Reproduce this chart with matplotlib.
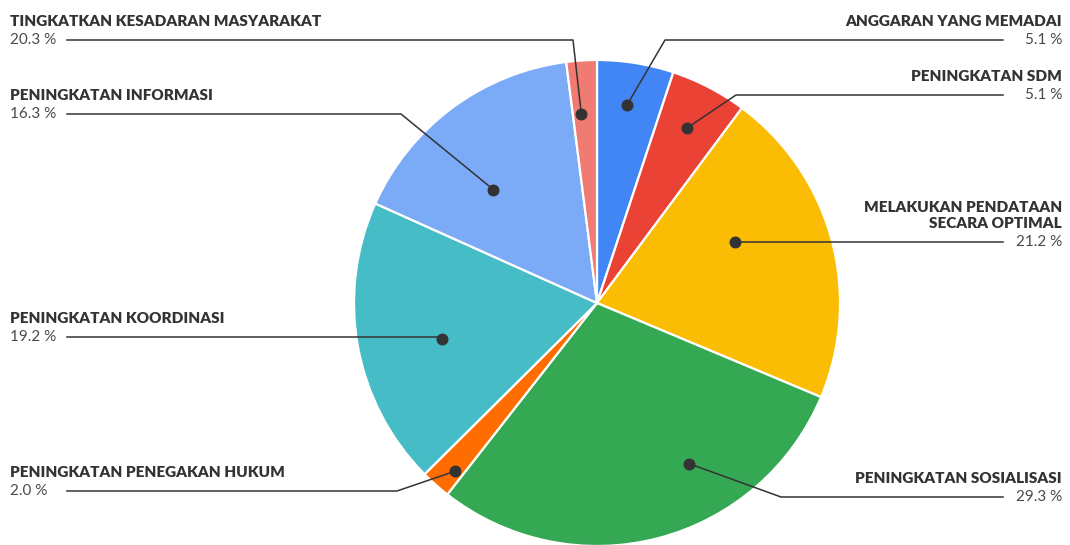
import matplotlib.pyplot as plt
import numpy as np

# slice data, clockwise from 12 o'clock
labels = ['ANGGARAN YANG MEMADAI', 'PENINGKATAN SDM',
          'MELAKUKAN PENDATAAN\nSECARA OPTIMAL', 'PENINGKATAN SOSIALISASI',
          'PENINGKATAN PENEGAKAN HUKUM', 'PENINGKATAN KOORDINASI',
          'PENINGKATAN INFORMASI', 'TINGKATKAN KESADARAN MASYARAKAT']
values = [5.1, 5.1, 21.2, 29.3, 2.0, 19.2, 16.3, 2.03]
pct_text = ['5.1 %', '5.1 %', '21.2 %', '29.3 %', '2.0 %', '19.2 %', '16.3 %', '20.3 %']
colors = ['#4285F4', '#EA4335', '#FBBC04', '#34A853',
          '#FF6D01', '#46BDC6', '#7BAAF7', '#F07B72']

# label layout (pixels from the top of the image)
side = ['R', 'R', 'R', 'R', 'L', 'L', 'L', 'L']
line_y = [40, 95, 242, 497, 491, 337, 114, 40]
elbow_x = [665, 736, None, 781, 397, None, 401, 573]
dot_frac = [0.47, 0.49, 0.39, 0.356, 0.30, 0.46, 0.40, 0.35]
dot_r = [0.824, 0.812, 0.622, 0.761, 0.906, 0.655, 0.632, 0.78]

W, H = 1070, 545
cx, cy, R = 597, H - 303, 243
ink = '#333333'

fig = plt.figure(figsize=(W / 100, H / 100), dpi=100)
ax = fig.add_axes([0, 0, 1, 1])

ax.pie(values, colors=colors, startangle=90, counterclock=False,
       center=(cx, cy), radius=R, normalize=True,
       wedgeprops=dict(edgecolor='white', linewidth=1.6))
ax.set_xlim(0, W)
ax.set_ylim(0, H)
ax.set_aspect('equal')
ax.axis('off')

frac = np.array(values) / sum(values)
start = np.concatenate([[0], np.cumsum(frac)[:-1]]) * 360

for i in range(len(values)):
    ang = np.radians(start[i] + dot_frac[i] * frac[i] * 360)
    dx = cx + dot_r[i] * R * np.sin(ang)
    dy = cy + dot_r[i] * R * np.cos(ang)
    ly = H - line_y[i]
    ex = dx if elbow_x[i] is None else elbow_x[i]
    end = 1003 if side[i] == 'R' else 67
    ax.plot([dx, ex, end], [dy, ly, ly], color=ink, lw=1.1, zorder=5)
    ax.plot(dx, dy, 'o', color=ink, ms=7.6, zorder=6)

    if side[i] == 'R':
        tx, ha = 1062, 'right'
    else:
        tx, ha = 10, 'left'
    ax.text(tx, ly + 14, labels[i], ha=ha, va='baseline', fontsize=11,
            fontweight='heavy', family='Lato', color=ink, linespacing=1.3,
            zorder=7)
    ax.text(tx, ly, pct_text[i], ha=ha, va='center', fontsize=11,
            family='Lato', color='#4a4a4a', zorder=7)

fig.savefig('out.png', dpi=100)
